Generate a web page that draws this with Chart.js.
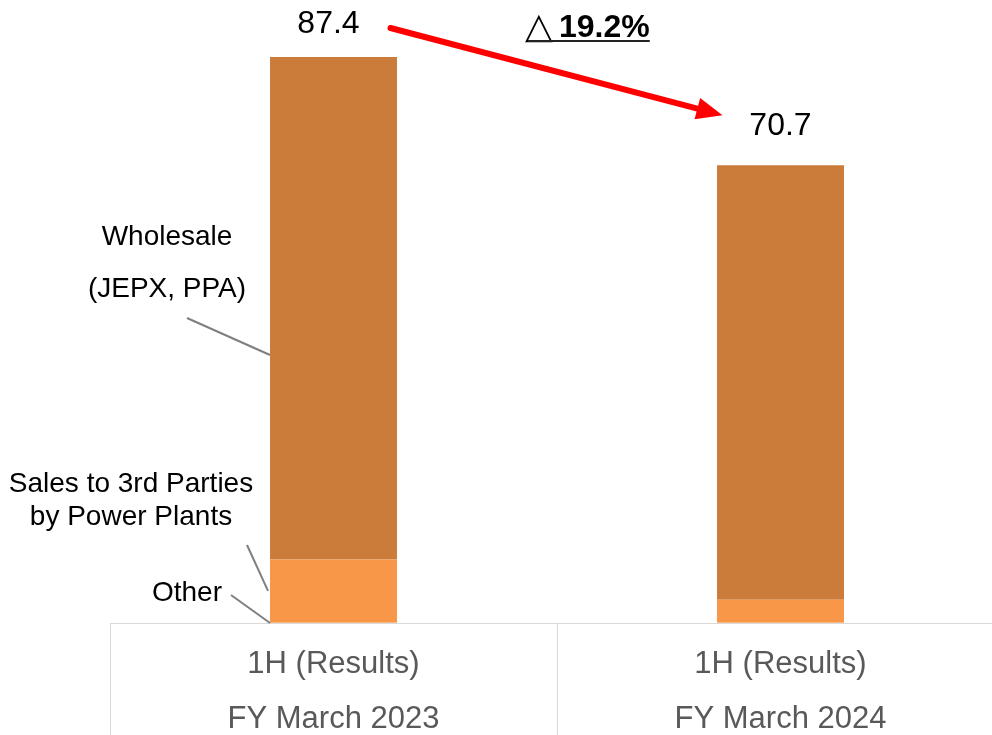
<!DOCTYPE html>
<html>
<head>
<meta charset="utf-8">
<script src="https://cdn.jsdelivr.net/npm/chart.js@4.4.1/dist/chart.umd.min.js"></script>
<style>
  html, body { margin: 0; padding: 0; background: #fff; overflow: hidden; }
  #wrap { width: 1010px; height: 735px; }
</style>
</head>
<body>
<div id="wrap"><canvas id="sales-chart" width="1010" height="735"></canvas></div>
<script>
// periods on the x axis (two text rows each)
const periods = [
    ['1H (Results)', 'FY March 2023'],
    ['1H (Results)', 'FY March 2024'],
];

// stacked segments, bottom to top
const other     = [0.1, 0.1];
const thirdParty = [9.7, 3.5];
const wholesale = [77.6, 67.1];

const changeText = '19.2%';

const FONT = '"Liberation Sans", Arial, sans-serif';

const data = {
    labels: periods.map(p => p.join(' ')),
    datasets: [{
        label: 'Other',
        data: other,
        backgroundColor: '#F9A868',
    },{
        label: 'Sales to 3rd Parties by Power Plants',
        data: thirdParty,
        backgroundColor: '#F79747',
    },{
        label: 'Wholesale (JEPX, PPA)',
        data: wholesale,
        backgroundColor: '#CB7B3A',
    }]
};

// labels, leader lines and the arrow between the totals
const extras = {
    id: 'extras',
    afterDatasetsDraw(chart) {
        const ctx = chart.ctx;
        const x = chart.scales.x;
        const tops = chart.getDatasetMeta(2).data;
        const bottoms = chart.getDatasetMeta(1).data;
        const base = chart.getDatasetMeta(0).data;

        ctx.save();

        // totals above the bars
        ctx.fillStyle = '#000';
        ctx.font = '32px ' + FONT;
        ctx.textAlign = 'center';
        ctx.textBaseline = 'middle';
        tops.forEach((bar, i) => {
            const total = other[i] + thirdParty[i] + wholesale[i];
            ctx.fillText(total.toFixed(1), bar.x - (i === 0 ? 5 : 0), bar.y - (i === 0 ? 33 : 39));
        });

        // series names to the left of the first bar
        const b0 = tops[0];
        const left = b0.x - b0.width / 2;
        ctx.font = '28px ' + FONT;
        ctx.fillText('Wholesale', 167, 237);
        ctx.fillText('(JEPX, PPA)', 167, 289);
        ctx.fillText('Sales to 3rd Parties', 131, 484);
        ctx.fillText('by Power Plants', 131, 517);
        ctx.fillText('Other', 187, 593);

        ctx.strokeStyle = '#7F7F7F';
        ctx.lineWidth = 2;
        const s0 = bottoms[0];
        const o0 = base[0];
        const leaders = [
            [187, 318, left, 355],
            [247, 545, left - 2, (s0.y + s0.base) / 2],
            [231, 595, left, o0.base],
        ];
        leaders.forEach(([x1, y1, x2, y2]) => {
            ctx.beginPath();
            ctx.moveTo(x1, y1);
            ctx.lineTo(x2, y2);
            ctx.stroke();
        });

        // red arrow from the first total to the second
        const b1 = tops[1];
        const sx = b0.x + 57, sy = b0.y - 29;
        const ex = b1.x - 58, ey = b1.y - 50;
        const ang = Math.atan2(ey - sy, ex - sx);
        const head = 26, half = 11;
        const hx = ex - head * Math.cos(ang), hy = ey - head * Math.sin(ang);
        ctx.strokeStyle = '#FF0000';
        ctx.fillStyle = '#FF0000';
        ctx.lineWidth = 6;
        ctx.lineCap = 'round';
        ctx.beginPath();
        ctx.moveTo(sx, sy);
        ctx.lineTo(hx + 4 * Math.cos(ang), hy + 4 * Math.sin(ang));
        ctx.stroke();
        ctx.beginPath();
        ctx.moveTo(ex, ey);
        ctx.lineTo(hx + half * Math.sin(ang), hy - half * Math.cos(ang));
        ctx.lineTo(hx - half * Math.sin(ang), hy + half * Math.cos(ang));
        ctx.closePath();
        ctx.fill();

        // change label, underlined
        ctx.fillStyle = '#000';
        ctx.textAlign = 'left';
        ctx.textBaseline = 'alphabetic';
        const tx = 528, ty = 37;
        ctx.font = '36px "DejaVu Sans", sans-serif';
        ctx.fillText('\u25B3', tx - 3, ty + 1);
        const triW = 31;
        ctx.font = 'bold 32px ' + FONT;
        ctx.fillText(changeText, tx + triW, ty);
        const endX = tx + triW + ctx.measureText(changeText).width;
        ctx.fillStyle = '#222';
        ctx.fillRect(tx, ty + 3, endX - tx, 2);

        // period labels in the table under the bars
        ctx.fillStyle = '#595959';
        ctx.font = '31px ' + FONT;
        ctx.textAlign = 'center';
        ctx.textBaseline = 'middle';
        periods.forEach((p, i) => {
            const cx = x.getPixelForValue(i);
            ctx.fillText(p[0], cx, 664);
            ctx.fillText(p[1], cx, 719);
        });

        ctx.restore();
    }
};

const config = {
    type: 'bar',
    data: data,
    options: {
        responsive: false,
        animation: false,
        layout: { padding: { left: 110, right: 6, top: 0, bottom: 0 } },
        datasets: {
            bar: { barPercentage: 0.284, categoryPercentage: 1.0 }
        },
        plugins: {
            legend: { display: false },
            tooltip: { enabled: false }
        },
        scales: {
            x: {
                stacked: true,
                offset: true,
                afterFit: (scale) => { scale.height = 112; },
                grid: {
                    offset: true,
                    drawOnChartArea: false,
                    drawTicks: true,
                    tickLength: 112,
                    color: '#D9D9D9',
                    lineWidth: 1
                },
                border: { display: true, color: '#D9D9D9', width: 1 },
                ticks: { display: false }
            },
            y: {
                stacked: true,
                display: false,
                min: 0,
                max: 96.2
            }
        }
    },
    plugins: [extras]
};

const salesChart = new Chart(
    document.getElementById('sales-chart'),
    config
);
</script>
</body>
</html>
